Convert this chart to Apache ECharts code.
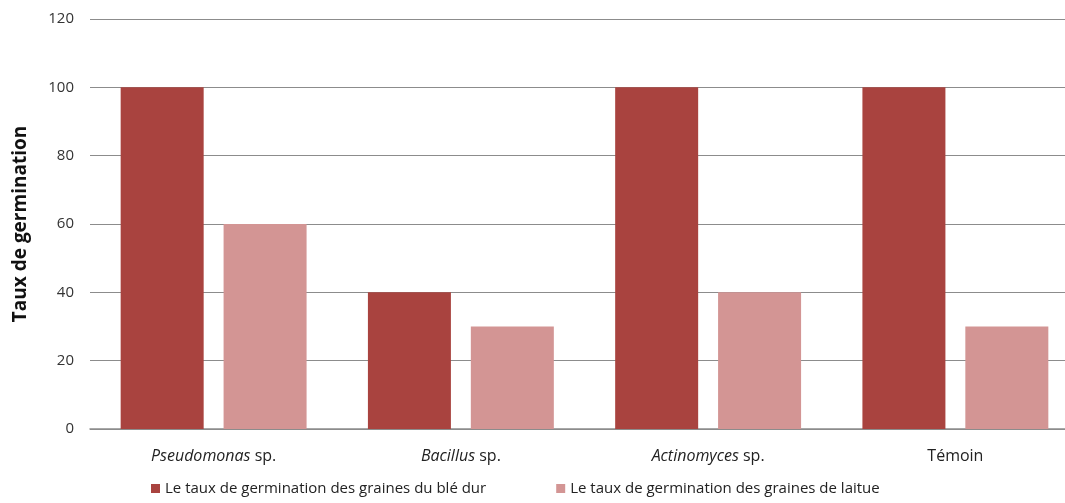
<!DOCTYPE html>
<html>
<head>
<meta charset="UTF-8">
<script src="https://cdn.jsdelivr.net/npm/echarts@6/dist/echarts.min.js"></script>
<style>
  html, body { margin: 0; padding: 0; background: #fff; }
  #chart { width: 1065px; height: 503px; }
</style>
</head>
<body>
<div id="chart"></div>
<script>
  // italic part of each category, then the regular part
  var italicPart = ['Pseudomonas', 'Bacillus', 'Actinomyces', ''];
  var plainPart = [' sp.', ' sp.', ' sp.', 'Témoin'];
  var seriesNames = ['Le taux de germination des graines du blé dur', 'Le taux de germination des graines de laitue'];
  var ble = [100, 40, 100, 100];
  var laitue = [60, 30, 40, 30];
  var yTicks = [0, 20, 40, 60, 80, 100, 120];

  var categories = italicPart.map(function (g, i) { return g + '|' + plainPart[i]; });

  var chart = echarts.init(document.getElementById('chart'));
  chart.setOption({
    animation: false,
    textStyle: { fontFamily: 'Open Sans' },
    grid: { left: 90, right: -14, top: 19, bottom: 74, outerBoundsMode: 'none' },
    legend: {
      bottom: 2,
      left: 146,
      itemGap: 70,
      itemWidth: 9,
      itemHeight: 9,
      icon: 'rect',
      textStyle: { fontSize: 15, color: '#222', fontFamily: 'Open Sans' },
      data: seriesNames
    },
    xAxis: {
      type: 'category',
      data: categories,
      axisLine: { lineStyle: { color: '#8c8c8c', width: 1.5 } },
      axisTick: { show: false },
      axisLabel: {
        margin: 19,
        formatter: function (v) {
          var p = v.split('|');
          return (p[0] ? '{i|' + p[0] + '}' : '') + '{n|' + p[1] + '}';
        },
        rich: {
          i: { fontStyle: 'italic', fontSize: 16, color: '#222', fontFamily: 'Open Sans' },
          n: { fontSize: 16, color: '#222', fontFamily: 'Open Sans' }
        }
      }
    },
    yAxis: {
      type: 'value',
      min: yTicks[0],
      max: yTicks[yTicks.length - 1],
      interval: 20,
      name: 'Taux de germination',
      nameLocation: 'middle',
      nameGap: 60,
      nameTextStyle: { fontSize: 19, fontWeight: 'bold', color: '#111', fontFamily: 'Open Sans' },
      axisLine: { show: false },
      axisTick: { show: false },
      axisLabel: { fontSize: 15, color: '#333', margin: 16 },
      splitLine: { lineStyle: { color: '#8c8c8c', width: 1.2 } }
    },
    series: [{
      name: seriesNames[0],
      type: 'bar',
      data: ble,
      barWidth: 83,
      barGap: '24%',
      itemStyle: { color: '#a9433f' }
    }, {
      name: seriesNames[1],
      type: 'bar',
      data: laitue,
      barWidth: 83,
      itemStyle: { color: '#d39594' }
    }]
  });
</script>
</body>
</html>
